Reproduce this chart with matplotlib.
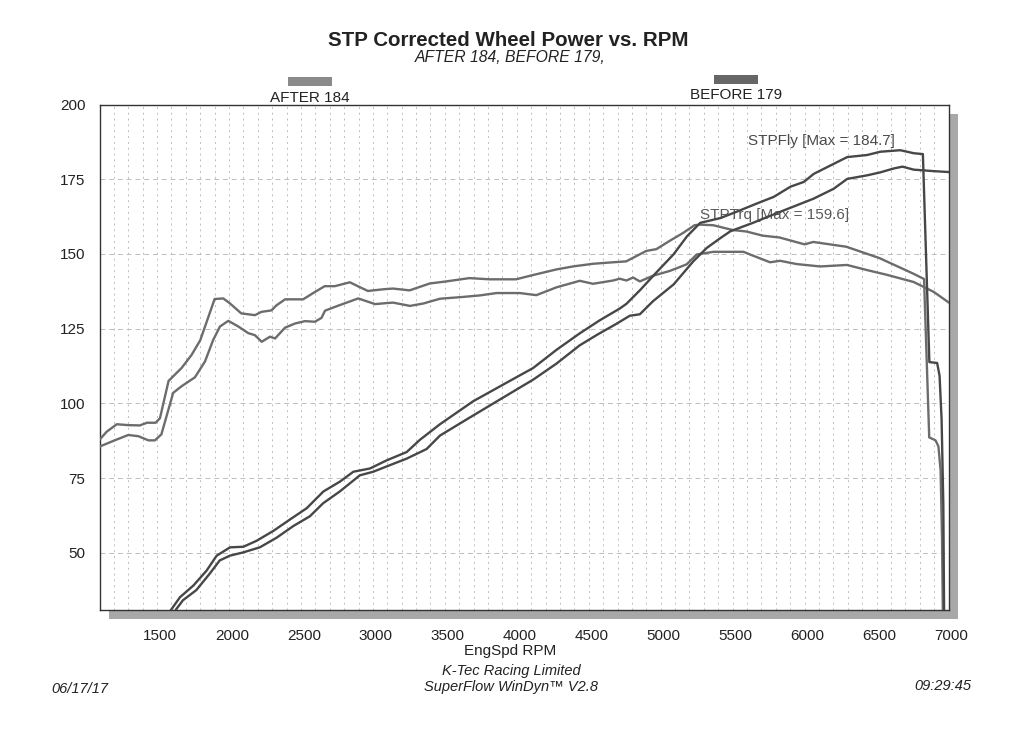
import matplotlib
matplotlib.use("Agg")
import matplotlib.pyplot as plt
from matplotlib.patches import Rectangle
from matplotlib.ticker import MultipleLocator
import matplotlib.transforms as mtransforms

plt.rcParams['font.family'] = ['Liberation Sans', 'DejaVu Sans']

# ---------------- data (read from the dyno sheet) ----------------
title = "STP Corrected Wheel Power vs. RPM"
subtitle = "AFTER 184, BEFORE 179,"
run_names = ["AFTER 184", "BEFORE 179"]

x_ticks = [1500, 2000, 2500, 3000, 3500, 4000, 4500, 5000, 5500, 6000, 6500, 7000]
y_ticks = [50, 75, 100, 125, 150, 175, 200]

# AFTER run - STPTrq
after_trq_rpm = [1100, 1150, 1220, 1300, 1380, 1430, 1490, 1520, 1580, 1670, 1740, 1800,
                 1845, 1900, 1960, 2005, 2085, 2180, 2225, 2295, 2330, 2390, 2515, 2595,
                 2665, 2735, 2840, 2895, 2965, 3080, 3140, 3255, 3395, 3510, 3670, 3810,
                 3995, 4110, 4275, 4390, 4530, 4670, 4760, 4900, 4970, 5060, 5155, 5235,
                 5270, 5365, 5500, 5595, 5710, 5825, 6000, 6060, 6290, 6520, 6755, 6830,
                 6866, 6910, 6930, 6945, 6955, 6963]
after_trq = [87.8, 90.5, 93.0, 92.7, 92.6, 93.5, 93.5, 95.0, 107.5, 111.8, 116.2, 121.1,
             127.3, 134.9, 135.1, 133.5, 130.1, 129.5, 130.6, 131.1, 132.8, 134.8, 134.8, 137.2,
             139.2, 139.2, 140.5, 139.2, 137.6, 138.2, 138.4, 137.8, 140.1, 140.8, 141.9, 141.5,
             141.5, 142.9, 144.8, 145.8, 146.7, 147.2, 147.5, 151.0, 151.6, 154.3, 157.0, 159.6,
             159.8, 159.6, 158.0, 157.5, 156.1, 155.5, 153.2, 154.0, 152.4, 148.6, 143.4, 141.6,
             88.6, 87.6, 85.6, 77.6, 55.0, 20.0]

# AFTER run - STPFly (power)
after_pwr_rpm = [1555, 1659, 1752, 1844, 1914, 2007, 2100, 2192, 2308, 2423, 2540, 2656,
                 2771, 2864, 2980, 3095, 3235, 3327, 3466, 3697, 3929, 4113, 4276, 4437,
                 4577, 4715, 4762, 4855, 4970, 5090, 5183, 5275, 5415, 5532, 5670, 5786,
                 5902, 5995, 6064, 6180, 6296, 6435, 6527, 6665, 6758, 6822, 6867, 6921,
                 6938, 6952, 6964, 6971]
after_pwr = [28.0, 35.1, 39.0, 44.0, 49.0, 51.8, 52.0, 54.0, 57.3, 61.1, 64.9, 70.5,
             73.8, 77.1, 78.2, 80.9, 83.7, 87.8, 93.0, 100.7, 106.9, 111.8, 117.9, 123.4,
             127.8, 131.7, 133.3, 137.8, 143.8, 149.9, 155.9, 160.4, 162.0, 164.2, 166.9, 169.1,
             172.5, 174.1, 176.8, 179.6, 182.4, 183.1, 184.2, 184.7, 183.7, 183.4, 113.8, 113.5,
             109.2, 94.6, 66.2, 20.0]

# BEFORE run - STPTrq
before_trq_rpm = [1100, 1205, 1300, 1370, 1440, 1485, 1530, 1612, 1670, 1763, 1833, 1890,
                  1937, 1995, 2065, 2133, 2180, 2227, 2285, 2320, 2389, 2458, 2528, 2597,
                  2643, 2667, 2760, 2898, 3015, 3084, 3140, 3258, 3350, 3466, 3626, 3742,
                  3859, 4020, 4136, 4275, 4437, 4529, 4669, 4715, 4762, 4808, 4855, 4947,
                  5063, 5180, 5250, 5275, 5367, 5575, 5621, 5760, 5830, 5945, 6108, 6295,
                  6433, 6572, 6758, 6897, 7000]
before_trq = [85.5, 87.6, 89.4, 89.0, 87.6, 87.6, 89.6, 103.5, 105.7, 108.7, 114.0, 121.2,
              125.7, 127.6, 125.7, 123.5, 122.8, 120.6, 122.3, 121.7, 125.3, 126.7, 127.5, 127.3,
              128.6, 131.0, 132.7, 135.1, 133.2, 133.5, 133.7, 132.6, 133.4, 135.0, 135.6, 136.1,
              136.9, 136.9, 136.2, 138.8, 141.0, 140.0, 141.1, 141.7, 141.1, 142.1, 140.8, 142.7,
              144.3, 146.5, 149.8, 150.0, 150.7, 150.7, 149.8, 147.2, 147.7, 146.6, 145.8, 146.3,
              144.6, 143.0, 140.6, 137.3, 133.8]

# BEFORE run - STPFly (power)
before_pwr_rpm = [1585, 1680, 1773, 1866, 1935, 2005, 2098, 2214, 2330, 2446, 2562, 2655,
                  2770, 2909, 3002, 3118, 3235, 3373, 3466, 3651, 3859, 4113, 4276, 4437,
                  4553, 4692, 4785, 4855, 4947, 5090, 5228, 5320, 5415, 5485, 5636, 5831,
                  6063, 6202, 6296, 6435, 6527, 6620, 6680, 6758, 6897, 7000]
before_pwr = [28.0, 34.1, 37.5, 43.0, 47.4, 49.0, 50.1, 51.8, 55.0, 58.9, 62.2, 66.6,
              70.5, 75.9, 77.1, 79.3, 81.5, 84.7, 89.2, 94.6, 100.6, 107.9, 113.3, 119.4,
              122.8, 126.6, 129.3, 129.8, 134.2, 139.8, 147.6, 152.0, 155.3, 157.6, 160.3, 164.1,
              168.5, 171.8, 175.1, 176.3, 177.3, 178.6, 179.2, 178.2, 177.7, 177.4]

fly_label = "STPFly [Max = 184.7]"
trq_label = "STPTrq [Max = 159.6]"

# ---------------- figure ----------------
W, H = 1024, 745
fig = plt.figure(figsize=(W / 100, H / 100), dpi=100)
fig.patch.set_facecolor('white')

def fx(px):
    return px / W

def fy(py):
    return 1 - py / H

ax_l, ax_r, ax_t, ax_b = 99.5, 948.5, 104.5, 609.5

# drop shadow behind plot area
fig.patches.append(Rectangle((fx(ax_l + 9), fy(ax_b + 9)), fx(ax_r - ax_l), (ax_b - ax_t) / H,
                             transform=fig.transFigure, facecolor='#a8a8a8',
                             edgecolor='none', zorder=0))

ax = fig.add_axes([fx(ax_l), fy(ax_b), fx(ax_r - ax_l), (ax_b - ax_t) / H])
ax.set_zorder(1)
ax.set_facecolor('white')
ax.set_xlim(1100, 7000)
ax.set_ylim(31, 200)

ax.set_xticks(x_ticks)
ax.set_yticks(y_ticks)
ax.xaxis.set_minor_locator(MultipleLocator(100))
ax.tick_params(which='both', length=0)
ax.tick_params(axis='y', pad=10, labelsize=11, labelcolor='#222222')
ax.tick_params(axis='x', pad=14, labelsize=11, labelcolor='#222222')
offset = mtransforms.ScaledTranslation(3 / 100, 0, fig.dpi_scale_trans)
for lab in ax.get_xticklabels():
    lab.set_transform(lab.get_transform() + offset)

ax.grid(axis='x', which='both', linestyle=(0, (2, 4)), color='#bdbdbd', linewidth=0.7)
ax.grid(axis='y', which='major', linestyle=(0, (5, 4)), color='#bdbdbd', linewidth=0.7)
ax.set_axisbelow(True)
for s in ax.spines.values():
    s.set_color('#333333')
    s.set_linewidth(1.0)

pwr_col = '#474747'
trq_col = '#6c6c6c'
ax.plot(after_trq_rpm, after_trq, color=trq_col, lw=1.7, zorder=3)
ax.plot(before_trq_rpm, before_trq, color=trq_col, lw=1.7, zorder=3)
ax.plot(after_pwr_rpm, after_pwr, color=pwr_col, lw=1.7, zorder=4)
ax.plot(before_pwr_rpm, before_pwr, color=pwr_col, lw=1.7, zorder=4)

# curve annotations
fig.text(fx(748), fy(141), fly_label, fontsize=11, color='#4a4a4a', va='center', ha='left', zorder=2)
ax.text(fx(700 - ax_l) / fx(ax_r - ax_l), (ax_b - 215) / (ax_b - ax_t), trq_label,
        transform=ax.transAxes, fontsize=11, color='#5a5a5a', va='center', ha='left', zorder=2)

# titles
fig.text(fx(508), fy(40), title, fontsize=14.8, fontweight='bold', color='#222222',
         ha='center', va='center')
fig.text(fx(510), fy(57), subtitle, fontsize=11.3, style='italic', color='#222222',
         ha='center', va='center')

# legend swatches
legend_cols = ['#8a8a8a', '#666666']
legend_x = [310, 736]
legend_rect_y = [77, 75]
legend_text_y = [98, 95]
for name, col, lx, ry, ty in zip(run_names, legend_cols, legend_x, legend_rect_y, legend_text_y):
    fig.patches.append(Rectangle((fx(lx - 22), fy(ry + 9)), fx(44), 9 / H,
                                 transform=fig.transFigure, facecolor=col, edgecolor='none'))
    fig.text(fx(lx), fy(ty), name, fontsize=11, color='#222222', ha='center', va='center')

# footer
fig.text(fx(510), fy(651), "EngSpd RPM", fontsize=11, color='#222222', ha='center', va='center')
fig.text(fx(511), fy(671), "K-Tec Racing Limited", fontsize=10.5, style='italic',
         color='#222222', ha='center', va='center')
fig.text(fx(511), fy(687), "SuperFlow WinDyn\u2122 V2.8", fontsize=10.5, style='italic',
         color='#222222', ha='center', va='center')
fig.text(fx(80), fy(689), "06/17/17", fontsize=10.5, style='italic', color='#222222',
         ha='center', va='center')
fig.text(fx(943), fy(686), "09:29:45", fontsize=10.5, style='italic', color='#222222',
         ha='center', va='center')

fig.savefig("out.png", dpi=100, facecolor='white')
